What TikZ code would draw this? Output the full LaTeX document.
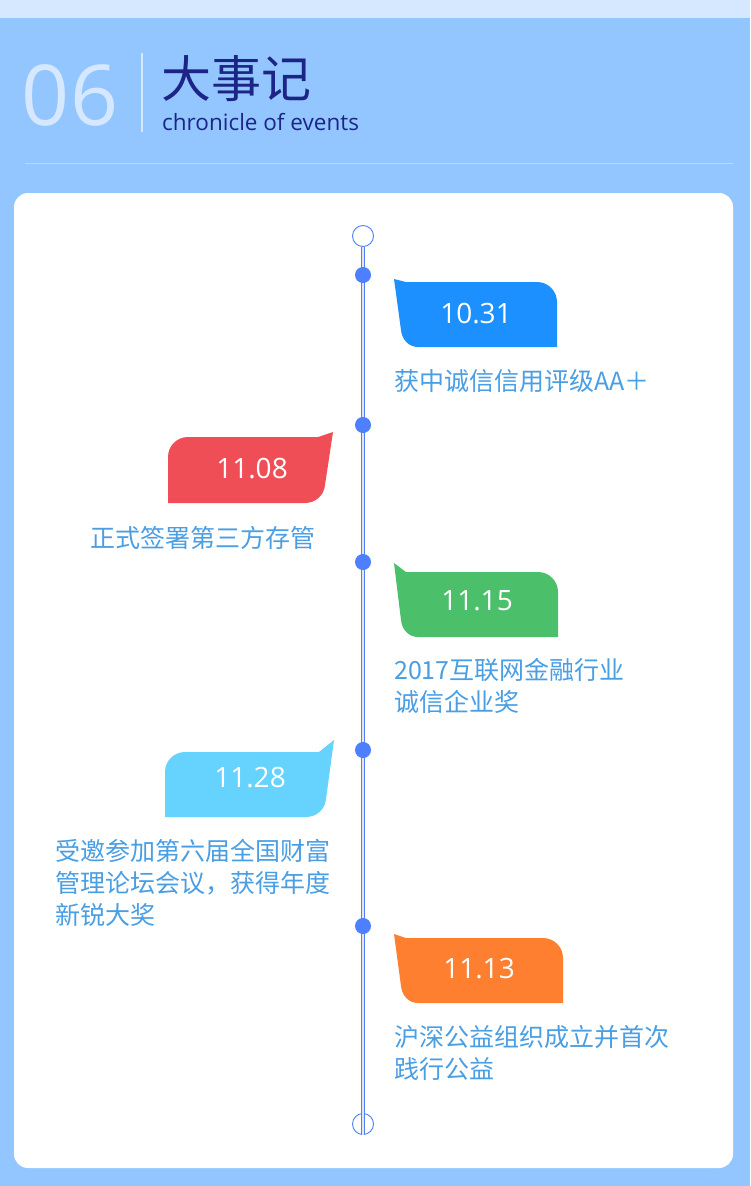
\documentclass[tikz,border=0pt]{standalone}
\usepackage{fontspec}
\setmainfont{Open Sans}
\newfontfamily\cjk{Noto Sans CJK SC}
\usetikzlibrary{positioning}
\definecolor{pagebg}{HTML}{93C6FF}
\definecolor{strip}{HTML}{D6E8FF}
\definecolor{rule}{HTML}{B6D7FF}
\definecolor{navy}{HTML}{1C2488}
\definecolor{dotblue}{HTML}{4E7FFF}
\definecolor{itemtext}{HTML}{4A9EE3}
\definecolor{dateblue}{HTML}{1C90FF}
\definecolor{datered}{HTML}{F04E56}
\definecolor{dategreen}{HTML}{4CBF6B}
\definecolor{datesky}{HTML}{66D3FF}
\definecolor{dateorange}{HTML}{FF7F30}
\tikzset{
    dot/.style={circle, fill=dotblue, inner sep=0pt, minimum size=16pt},
    endcap/.style={circle, draw=dotblue, fill=white, line width=0.9pt, inner sep=0pt, minimum size=21pt},
    datelabel/.style={text=white, font=\fontsize{28}{30}\selectfont, inner sep=0pt},
    eventtext/.style={text=itemtext, font=\cjk\fontsize{25}{32}\selectfont, align=left, inner sep=0pt},
    axis/.style={draw=dotblue, line width=1pt, double=white!80!gray, double distance=1.6pt}
}
% bubble with tail on the left: #1 left, #2 top, #3 right, #4 bottom, #5 tail rise, #6 colour
\newcommand{\bubbleR}[6]{%
  \fill[#6] (#1,{#2-#5}) -- ({#1+12},#2) -- ({#3-20},#2) to[out=0,in=90] (#3,{#2+20})
    -- (#3,#4) -- ({#1+24},#4) to[out=180,in=-85] ({#1+7},{#4-17}) -- cycle;}
% bubble with tail on the right
\newcommand{\bubbleL}[6]{%
  \fill[#6] (#3,{#2-#5}) -- ({#3-15},#2) -- ({#1+20},#2) to[out=180,in=90] (#1,{#2+20})
    -- (#1,#4) -- ({#3-28},#4) to[out=0,in=-95] ({#3-8},{#4-18}) -- cycle;}

\begin{document}
\begin{tikzpicture}[x=1pt, y=-1pt]
    \useasboundingbox (0,0) rectangle (750,1186);
    % Background
    \fill[pagebg] (0,0) rectangle (750,1186);
    \fill[strip] (0,0) rectangle (750,18);
    \fill[white, rounded corners=14pt] (14,193) rectangle (733,1168);

    % Header
    \node[text=strip, font=\fontsize{84}{90}\selectfont, inner sep=0pt] (num) at (70,95) {06};
    \draw[strip, line width=1.5pt] (142,53) -- (142,132);
    \node[anchor=west, text=navy, font=\cjk\fontsize{50}{52}\selectfont, inner sep=0pt] (title) at (161,79) {大事记};
    \node[anchor=west, text=navy, font=\fontsize{22.5}{24}\selectfont, inner sep=0pt] (subtitle) at (162,122) {chronicle of events};
    \draw[rule, line width=0.8pt] (25,163) -- (733,163);

    % Timeline
    \node[endcap] (top) at (363,236) {};
    \node[endcap, fill=none] (bottom) at (363,1124) {};
    \draw[axis] (top.south) -- (bottom.south);
    \node[dot] (d1) at (363,275) {};
    \node[dot] (d2) at (363,425) {};
    \node[dot] (d3) at (363,562) {};
    \node[dot] (d4) at (363,750) {};
    \node[dot] (d5) at (363,926) {};

    % Events
    \bubbleR{394}{282}{557}{347}{3}{dateblue}
    \node[datelabel] (e1) at (476,314) {10.31};
    \node[eventtext, anchor=west] (t1) at (394,381) {获中诚信信用评级AA＋};

    \bubbleL{168}{437}{333}{503}{5}{datered}
    \node[datelabel] (e2) at (252,469) {11.08};
    \node[eventtext, anchor=west] (t2) at (90,538) {正式签署第三方存管};

    \bubbleR{394}{572}{558}{637}{9}{dategreen}
    \node[datelabel] (e3) at (477,601) {11.15};
    \node[eventtext, anchor=north west] (t3) at (394,658) {2017互联网金融行业\\诚信企业奖};

    \bubbleL{165}{752}{334}{817}{12}{datesky}
    \node[datelabel] (e4) at (250,778) {11.28};
    \node[eventtext, anchor=north west] (t4) at (55,839) {受邀参加第六届全国财富\\管理论坛会议，获得年度\\新锐大奖};

    \bubbleR{394}{938}{563}{1003}{4}{dateorange}
    \node[datelabel] (e5) at (479,969) {11.13};
    \node[eventtext, anchor=north west] (t5) at (394,1025) {沪深公益组织成立并首次\\践行公益};
\end{tikzpicture}
\end{document}
